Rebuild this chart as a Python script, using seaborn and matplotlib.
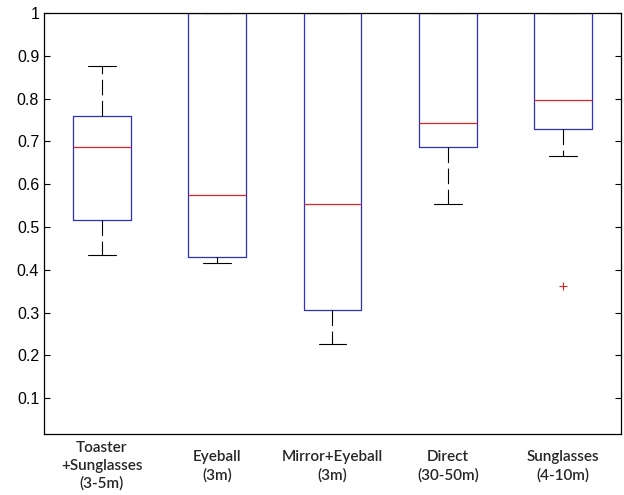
import numpy as np
import seaborn as sns
import matplotlib.pyplot as plt

# values
groups = ['Toaster\n+Sunglasses\n(3-5m)', 'Eyeball\n(3m)', 'Mirror+Eyeball\n(3m)',
          'Direct\n(30-50m)', 'Sunglasses\n(4-10m)']
whisker_low = [0.435, 0.415, 0.226, 0.553, 0.665]
q1 = [0.517, 0.430, 0.306, 0.687, 0.728]
median = [0.687, 0.575, 0.553, 0.743, 0.797]
q3 = [0.760, 1.0, 1.0, 1.0, 1.0]
whisker_high = [0.877, 1.0, 1.0, 1.0, 1.0]
outliers = [[], [], [], [], [0.362]]

yticks = [0.1, 0.2, 0.3, 0.4, 0.5, 0.6, 0.7, 0.8, 0.9, 1.0]
ytick_labels = ['0.1', '0.2', '0.3', '0.4', '0.5', '0.6', '0.7', '0.8', '0.9', '1']

sns.set_style('white')
plt.rcParams['font.family'] = ['Liberation Sans', 'DejaVu Sans']

stats = []
for i in range(len(groups)):
    stats.append({'whislo': whisker_low[i], 'q1': q1[i], 'med': median[i],
                  'q3': q3[i], 'whishi': whisker_high[i], 'fliers': outliers[i]})

fig = plt.figure(figsize=(6.24, 4.95), dpi=100)
ax = fig.add_axes([0.0705, 0.1232, 0.9245, 0.8505])

ax.bxp(stats, positions=np.arange(1, len(groups) + 1), widths=0.5,
       boxprops=dict(color='#2f2fc4', linewidth=0.9),
       medianprops=dict(color='#e02424', linewidth=0.9),
       whiskerprops=dict(color='black', linewidth=0.8, linestyle=(0, (14, 5))),
       capprops=dict(color='black', linewidth=0.8),
       flierprops=dict(marker='+', markeredgecolor='#e02424', markersize=6,
                       markeredgewidth=0.8, linestyle='none'),
       capwidths=0.24)

ax.set_xlim(0.5, 5.5)
ax.set_ylim(0.016, 1.0)
ax.set_yticks(yticks)
ax.set_yticklabels(ytick_labels, fontsize=11.5)
ax.set_xticks(np.arange(1, len(groups) + 1))
ax.set_xticklabels(groups, fontfamily=['Lato', 'DejaVu Sans'], fontweight='semibold',
                   fontsize=11, linespacing=1.35)
for lab in ax.get_xticklabels():
    lab.set_verticalalignment('center')
ax.tick_params(axis='x', length=0, pad=23)
ax.tick_params(axis='y', direction='in', length=4, width=0.8, right=True, left=True,
               colors='black', labelcolor='black')

for s in ax.spines.values():
    s.set_visible(True)
    s.set_color('black')
    s.set_linewidth(0.9)

fig.savefig('out.png', dpi=100)
